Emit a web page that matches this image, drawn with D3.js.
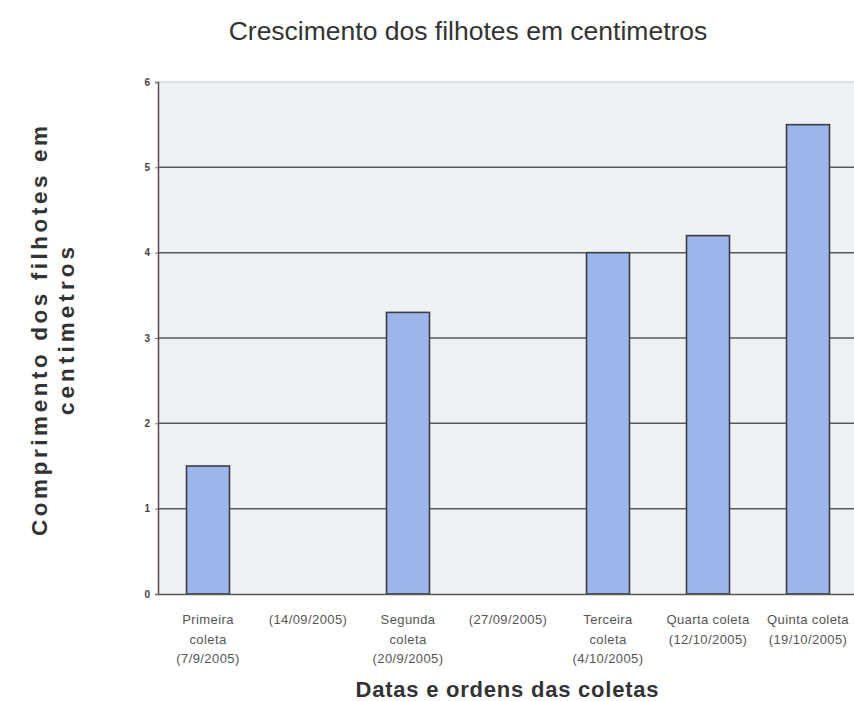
<!DOCTYPE html>
<html><head><meta charset="utf-8">
<script src="https://cdn.jsdelivr.net/npm/d3@7"></script>
<style>body{margin:0;background:#fff;overflow:hidden}svg{display:block}</style>
</head><body>
<script>
const categories = [
  ["Primeira", "coleta", "(7/9/2005)"],
  ["(14/09/2005)"],
  ["Segunda", "coleta", "(20/9/2005)"],
  ["(27/09/2005)"],
  ["Terceira", "coleta", "(4/10/2005)"],
  ["Quarta coleta", "(12/10/2005)"],
  ["Quinta coleta", "(19/10/2005)"]
];
const values = [1.5, 0, 3.3, 0, 4.0, 4.2, 5.5];
const yTicks = [0, 1, 2, 3, 4, 5, 6];
const title = "Crescimento dos filhotes em centimetros";
const yTitle = ["Comprimento dos filhotes em", "centimetros"];
const xTitle = "Datas e ordens das coletas";

const W = 854, H = 701;
const svg = d3.select("body").append("svg").attr("width", W).attr("height", H);
const pL = 158, pR = 858, pT = 82, pB = 594;

const x = d3.scaleBand().domain(d3.range(categories.length)).range([pL, pR]).padding(0);
const y = d3.scaleLinear().domain([0, 6]).range([pB, pT]);

svg.append("rect").attr("x", pL).attr("y", pT).attr("width", pR - pL).attr("height", pB - pT)
  .attr("fill", "#eef1f4");

// gridlines
svg.append("g").selectAll("line").data(yTicks.filter(d => d > 0)).join("line")
  .attr("x1", pL).attr("x2", pR)
  .attr("y1", d => y(d)).attr("y2", d => y(d))
  .attr("stroke", d => d === 6 ? "#d4d8dc" : "#5a5a5a").attr("stroke-width", 1.5);

// bars
const bw = x.bandwidth() * 0.43;
svg.append("g").selectAll("rect").data(values.map((v, i) => ({v, i})).filter(d => d.v > 0)).join("rect")
  .attr("x", d => x(d.i) + x.bandwidth() / 2 - bw / 2)
  .attr("y", d => y(d.v))
  .attr("width", bw)
  .attr("height", d => y(0) - y(d.v))
  .attr("fill", "#9db5e8")
  .attr("stroke", "#3c3c44").attr("stroke-width", 1.6);

// axes
const yAxis = d3.axisLeft(y).tickValues(yTicks).tickSize(3).tickFormat(d3.format("d"));
const gy = svg.append("g").attr("transform", `translate(${pL},0)`).call(yAxis);
gy.select(".domain").attr("stroke", "#5a4a4a").attr("stroke-width", 1.5);
gy.selectAll(".tick line").attr("stroke", "#777");
gy.selectAll(".tick text").attr("font-family", "Arial, Liberation Sans, sans-serif")
  .attr("font-size", 10).attr("font-weight", "bold").attr("fill", "#444").attr("x", -8);

const xAxis = d3.axisBottom(x).tickSize(0).tickFormat("");
const gx = svg.append("g").attr("transform", `translate(0,${pB})`).call(xAxis);
gx.select(".domain").attr("stroke", "#555").attr("stroke-width", 1.5);

// x tick labels (multiline)
const xl = svg.append("g").selectAll("text").data(categories).join("text")
  .attr("text-anchor", "middle")
  .attr("font-family", "Arial, Liberation Sans, sans-serif")
  .attr("font-size", 13).attr("letter-spacing", 0.4).attr("fill", "#555");
xl.each(function(lines, i) {
  d3.select(this).selectAll("tspan").data(lines).join("tspan")
    .attr("x", x(i) + x.bandwidth() / 2)
    .attr("y", (d, j) => 624 + j * 19.5)
    .text(d => d);
});

// title
svg.append("text").attr("x", 468).attr("y", 40).attr("text-anchor", "middle")
  .attr("font-family", "Arial, Liberation Sans, sans-serif").attr("font-size", 26.5).attr("fill", "#333")
  .text(title);

// y title
const yLens = [410, 168];
svg.append("g").selectAll("text").data(yTitle).join("text")
  .attr("transform", (d, i) => `translate(${47 + i * 27},${331}) rotate(-90)`)
  .attr("text-anchor", "middle")
  .attr("font-family", "Arial, Liberation Sans, sans-serif").attr("font-weight", "bold")
  .attr("font-size", 22.5).attr("fill", "#333")
  .attr("textLength", (d, i) => yLens[i]).attr("lengthAdjust", "spacing")
  .text(d => d);

// x title
svg.append("text").attr("x", 507).attr("y", 697).attr("text-anchor", "middle")
  .attr("font-family", "Arial, Liberation Sans, sans-serif").attr("font-weight", "bold")
  .attr("font-size", 22).attr("fill", "#333")
  .attr("textLength", 303).attr("lengthAdjust", "spacing")
  .text(xTitle);
</script>
</body></html>
